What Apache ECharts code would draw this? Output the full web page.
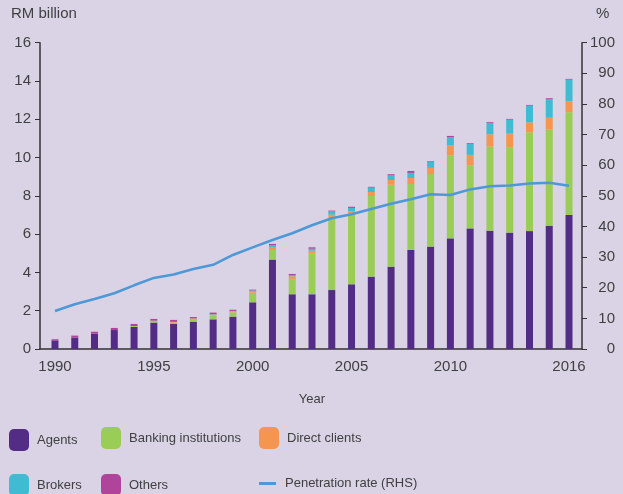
<!DOCTYPE html>
<html>
<head>
<meta charset="utf-8">
<script src="https://cdn.jsdelivr.net/npm/echarts@6/dist/echarts.min.js"></script>
<style>
html,body{margin:0;padding:0;background:#d9d3e5;}
#chart{width:623px;height:494px;}
</style>
</head>
<body>
<div id="chart"></div>
<script>
var years = ['1990','1991','1992','1993','1994','1995','1996','1997','1998','1999','2000','2001','2002','2003','2004','2005','2006','2007','2008','2009','2010','2011','2012','2013','2014','2015','2016'];
var agents = [0.45,0.60,0.80,0.99,1.15,1.38,1.32,1.43,1.55,1.69,2.44,4.67,2.86,2.86,3.08,3.38,3.78,4.30,5.17,5.35,5.78,6.30,6.18,6.08,6.16,6.44,7.00];
var banking = [0,0,0,0,0.05,0.10,0.05,0.15,0.20,0.22,0.50,0.50,0.80,2.14,3.82,3.69,4.21,4.28,3.45,3.79,4.34,3.30,4.39,4.46,5.16,5.02,5.37];
var direct = [0,0,0,0,0,0,0.05,0.02,0.05,0.06,0.09,0.16,0.14,0.14,0.12,0.12,0.21,0.25,0.31,0.32,0.52,0.54,0.65,0.71,0.52,0.62,0.57];
var brokers = [0,0,0,0,0,0,0,0,0.02,0.02,0.03,0.10,0.06,0.10,0.17,0.18,0.23,0.24,0.27,0.33,0.42,0.57,0.60,0.73,0.87,0.98,1.13];
var others = [0.06,0.10,0.10,0.11,0.11,0.09,0.10,0.07,0.08,0.06,0.04,0.06,0.06,0.07,0.04,0.06,0.04,0.06,0.10,0.03,0.07,0.04,0.04,0.04,0.04,0.04,0.04];
var penetration = [12.4,14.6,16.3,18.2,20.8,23.2,24.3,26.1,27.5,30.7,33.2,35.6,37.8,40.4,42.7,44.0,45.7,47.4,48.9,50.5,50.3,52.1,53.1,53.4,54.0,54.3,53.3];
var yearLabels = ['1990','1995','2000','2005','2010','2016'];

var textColor = '#404040';
var font = 'Liberation Sans, Arial, sans-serif';
function barSeries(name, arr, color){
  return {name:name, type:'bar', stack:'total', data:arr, barWidth:7, xAxisIndex:1, yAxisIndex:2,
    itemStyle:{color:color}, emphasis:{disabled:true}};
}
function legendItem(name, left, top, opts){
  var l = {data:[name], left:left, top:top, padding:0, itemWidth:20, itemHeight:22,
    textStyle:{fontSize:13, color:textColor, fontFamily:font, padding:[0,0,0,3]}, selectedMode:false};
  if (opts) for (var k in opts) l[k]=opts[k];
  return l;
}
var axisLineStyle = {color:'#333', width:1.5};
var chart = echarts.init(document.getElementById('chart'));
chart.setOption({
  backgroundColor:'#d9d3e5',
  animation:false,
  textStyle:{fontFamily:font},
  title:[
    {text:'RM billion', left:11, top:6, padding:0, textStyle:{fontSize:15, fontWeight:'normal', color:textColor, fontFamily:font}},
    {text:'%', left:596, top:6, padding:0, textStyle:{fontSize:15, fontWeight:'normal', color:textColor, fontFamily:font}}
  ],
  grid:[
    {left:40, right:41, top:42.7, bottom:145},
    {left:45.1, right:44.1, top:42.7, bottom:145}
  ],
  xAxis:[
    {type:'value', gridIndex:0, min:0, max:1, axisLine:{lineStyle:axisLineStyle}, axisTick:{show:false},
      axisLabel:{show:false}, splitLine:{show:false}},
    {type:'category', gridIndex:1, data:years, name:'Year', nameLocation:'middle', nameGap:44,
      nameTextStyle:{fontSize:13, color:textColor, fontFamily:font},
      axisLine:{show:false}, axisTick:{show:false}, splitLine:{show:false},
      axisLabel:{interval:function(i, v){ return yearLabels.indexOf(v) >= 0; }, fontSize:15, color:textColor, margin:10}}
  ],
  yAxis:[
    {type:'value', gridIndex:0, min:0, max:16, interval:2, position:'left',
      axisLine:{show:true, lineStyle:axisLineStyle}, axisTick:{show:true, length:5, lineStyle:{color:'#333'}},
      splitLine:{show:false}, axisLabel:{fontSize:15, color:textColor, margin:9}},
    {type:'value', gridIndex:0, min:0, max:100, interval:10, position:'right',
      axisLine:{show:true, lineStyle:axisLineStyle}, axisTick:{show:true, length:5, lineStyle:{color:'#333'}},
      splitLine:{show:false}, axisLabel:{fontSize:15, color:textColor, margin:33, align:'right'}},
    {type:'value', gridIndex:1, min:0, max:16, interval:2, show:false},
    {type:'value', gridIndex:1, min:0, max:100, interval:10, show:false}
  ],
  legend:[
    legendItem('Agents', 9, 429),
    legendItem('Banking institutions', 101, 427),
    legendItem('Direct clients', 259, 427),
    legendItem('Brokers', 9, 474),
    legendItem('Others', 101, 474),
    legendItem('Penetration rate (RHS)', 259, 477, {data:[{name:'Penetration rate (RHS)', icon:'rect'}], itemWidth:17, itemHeight:3, textStyle:{fontSize:13, color:textColor, fontFamily:font, padding:[0,0,0,4]}})
  ],
  series:[
    barSeries('Agents', agents, '#532c86'),
    barSeries('Banking institutions', banking, '#9acd55'),
    barSeries('Direct clients', direct, '#f59650'),
    barSeries('Brokers', brokers, '#3fbcd2'),
    barSeries('Others', others, '#b0449b'),
    {name:'Penetration rate (RHS)', type:'line', xAxisIndex:1, yAxisIndex:3, data:penetration,
      showSymbol:false, symbol:'none', lineStyle:{color:'#4f98d8', width:2.5}, itemStyle:{color:'#4f98d8'}, emphasis:{disabled:true}}
  ]
});
</script>
</body>
</html>
